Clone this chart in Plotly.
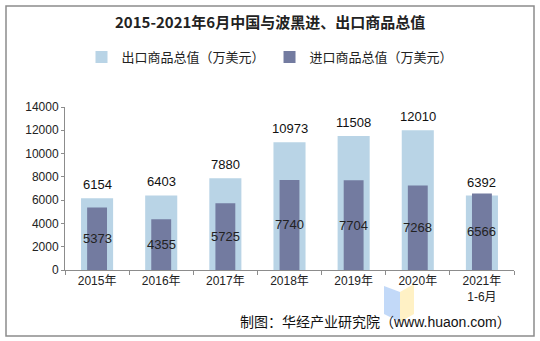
import plotly.graph_objects as go

# Data
years = ["2015年", "2016年", "2017年", "2018年", "2019年", "2020年", "2021年<br>1-6月"]
exports = [6154, 6403, 7880, 10973, 11508, 12010, 6392]
imports = [5373, 4355, 5725, 7740, 7704, 7268, 6566]
export_name = "出口商品总值（万美元）"
import_name = "进口商品总值（万美元）"
title_text = "2015-2021年6月中国与波黑进、出口商品总值"
source_text = "制图：华经产业研究院（www.huaon.com）"

W, H = 540, 341
L, R, T, B = 65, 514, 107, 270  # plot area in pixels


def px(x):
    return (x - L) / (R - L)


def py(y):
    return (B - y) / (B - T)


FONT = "Liberation Sans, Noto Sans CJK SC, sans-serif"
EXPORT_COLOR = "#B9D4E6"
IMPORT_COLOR = "#737BA0"

fig = go.Figure()
fig.add_trace(go.Bar(
    x=years, y=exports, name=export_name, width=0.5,
    marker=dict(color=EXPORT_COLOR, line=dict(width=0)),
))
fig.add_trace(go.Bar(
    x=years, y=imports, name=import_name, width=0.31,
    marker=dict(color=IMPORT_COLOR, line=dict(width=0)),
))

annotations = []
# export value labels above the wide bars
for yr, v in zip(years, exports):
    annotations.append(dict(
        x=yr, y=v, xref="x", yref="y", text=str(v), showarrow=False,
        yanchor="bottom", yshift=4, font=dict(family=FONT, size=13, color="#111111"),
    ))
# import value labels centred in the narrow bars
for yr, v in zip(years, imports):
    annotations.append(dict(
        x=yr, y=v / 2, xref="x", yref="y", text=str(v), showarrow=False,
        yanchor="middle", font=dict(family=FONT, size=13, color="#222222"),
    ))

# title
annotations.append(dict(
    x=px(270), y=py(22), xref="paper", yref="paper", text="<b>" + title_text + "</b>",
    showarrow=False, xanchor="center", yanchor="middle",
    font=dict(family="Noto Sans CJK SC, sans-serif", size=15, color="#222222"),
))
# source line
annotations.append(dict(
    x=px(513), y=py(322), xref="paper", yref="paper", text=source_text,
    showarrow=False, xanchor="right", yanchor="middle",
    font=dict(family=FONT, size=14, color="#111111"),
))

shapes = [
    # outer frame
    dict(type="rect", xref="paper", yref="paper",
         x0=px(6), x1=px(534), y0=py(336), y1=py(6),
         line=dict(color="#8C8C8C", width=1.5), fillcolor="rgba(0,0,0,0)", layer="below"),
    # faint logo mark
    dict(type="path", xref="paper", yref="paper",
         path=f"M {px(384)} {py(286)} L {px(400)} {py(292)} L {px(400)} {py(322)} L {px(384)} {py(314)} Z",
         fillcolor="rgba(120,170,240,0.45)", line=dict(width=0), layer="below"),
    dict(type="path", xref="paper", yref="paper",
         path=f"M {px(400)} {py(292)} L {px(414)} {py(284)} L {px(414)} {py(314)} L {px(400)} {py(322)} Z",
         fillcolor="rgba(255,230,150,0.55)", line=dict(width=0), layer="below"),
]

fig.update_layout(
    width=W, height=H,
    margin=dict(l=L, r=W - R, t=T, b=H - B, pad=0),
    barmode="overlay",
    paper_bgcolor="white", plot_bgcolor="white",
    font=dict(family=FONT, size=12, color="#222222"),
    showlegend=True,
    legend=dict(
        orientation="h", x=px(270), xanchor="center", y=py(57), yanchor="middle",
        font=dict(family="Noto Sans CJK SC, sans-serif", size=13, color="#222222"),
        itemwidth=30, tracegroupgap=0, bgcolor="rgba(0,0,0,0)",
    ),
    annotations=annotations,
    shapes=shapes,
    xaxis=dict(
        showline=True, linecolor="#8C8C8C", linewidth=1,
        ticks="outside", tickson="boundaries", ticklen=4, tickcolor="#8C8C8C",
        showgrid=False, tickfont=dict(family=FONT, size=12, color="#222222"),
        fixedrange=True,
    ),
    yaxis=dict(
        range=[0, 14000], dtick=2000, showline=True, linecolor="#8C8C8C", linewidth=1,
        ticks="outside", ticklen=3, tickcolor="#8C8C8C", showgrid=False, zeroline=False,
        tickfont=dict(family=FONT, size=12, color="#222222"), tickformat="d",
        fixedrange=True,
    ),
)

fig.write_html("out.html")
